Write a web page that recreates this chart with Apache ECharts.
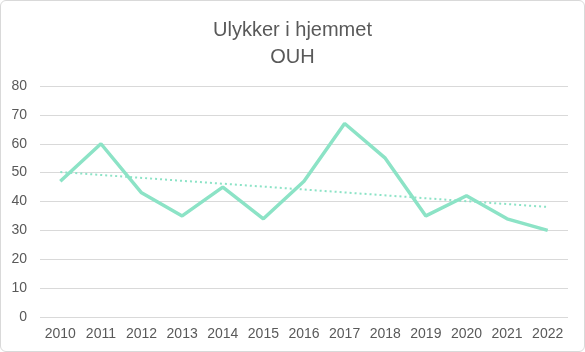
<!DOCTYPE html>
<html>
<head>
<meta charset="utf-8">
<script src="https://cdn.jsdelivr.net/npm/echarts@6/dist/echarts.min.js"></script>
<style>
  html, body { margin: 0; padding: 0; background: #fff; }
  #chart { width: 583px; height: 350px; border: 1px solid #d9d9d9; border-radius: 6px; }
</style>
</head>
<body>
<div id="chart"></div>
<script>
const years = ['2010', '2011', '2012', '2013', '2014', '2015', '2016', '2017', '2018', '2019', '2020', '2021', '2022']
const ulykker = [47, 60, 43, 35, 45, 34, 47, 67, 55, 35, 42, 34, 30]
// lineær trendlinje, endepunkter aflæst
const trendStart = 50.2
const trendEnd = 38.1

const chart = echarts.init(document.getElementById('chart'))
const option = {
  animation: false,
  title: {
    text: 'Ulykker i hjemmet\nOUH',
    left: 'center',
    top: 11,
    textStyle: {
      fontFamily: 'Liberation Sans',
      fontSize: 20,
      fontWeight: 'normal',
      color: '#595959',
      lineHeight: 27
    }
  },
  grid: {
    left: 39,
    right: 16,
    top: 85,
    bottom: 34
  },
  xAxis: {
    type: 'category',
    data: years,
    boundaryGap: true,
    axisLine: { show: false },
    axisTick: { show: false },
    axisLabel: {
      fontFamily: 'Liberation Sans',
      fontSize: 14,
      color: '#595959',
      margin: 10
    }
  },
  yAxis: {
    type: 'value',
    min: 0,
    max: 80,
    interval: 10,
    axisLine: { show: false },
    axisTick: { show: false },
    axisLabel: {
      fontFamily: 'Liberation Sans',
      fontSize: 14,
      color: '#595959',
      margin: 13
    },
    splitLine: { lineStyle: { color: '#d9d9d9', width: 1 } }
  },
  series: [
    {
      name: 'Ulykker',
      type: 'line',
      data: ulykker,
      symbol: 'none',
      lineStyle: { color: '#8ce3c6', width: 3.5 },
      z: 3
    },
    {
      name: 'Trend',
      type: 'line',
      data: [[years[0], trendStart], [years[years.length - 1], trendEnd]],
      symbol: 'none',
      lineStyle: { color: '#8ce3c6', width: 2, type: [2, 3] },
      z: 2
    }
  ]
}
chart.setOption(option)
</script>
</body>
</html>
